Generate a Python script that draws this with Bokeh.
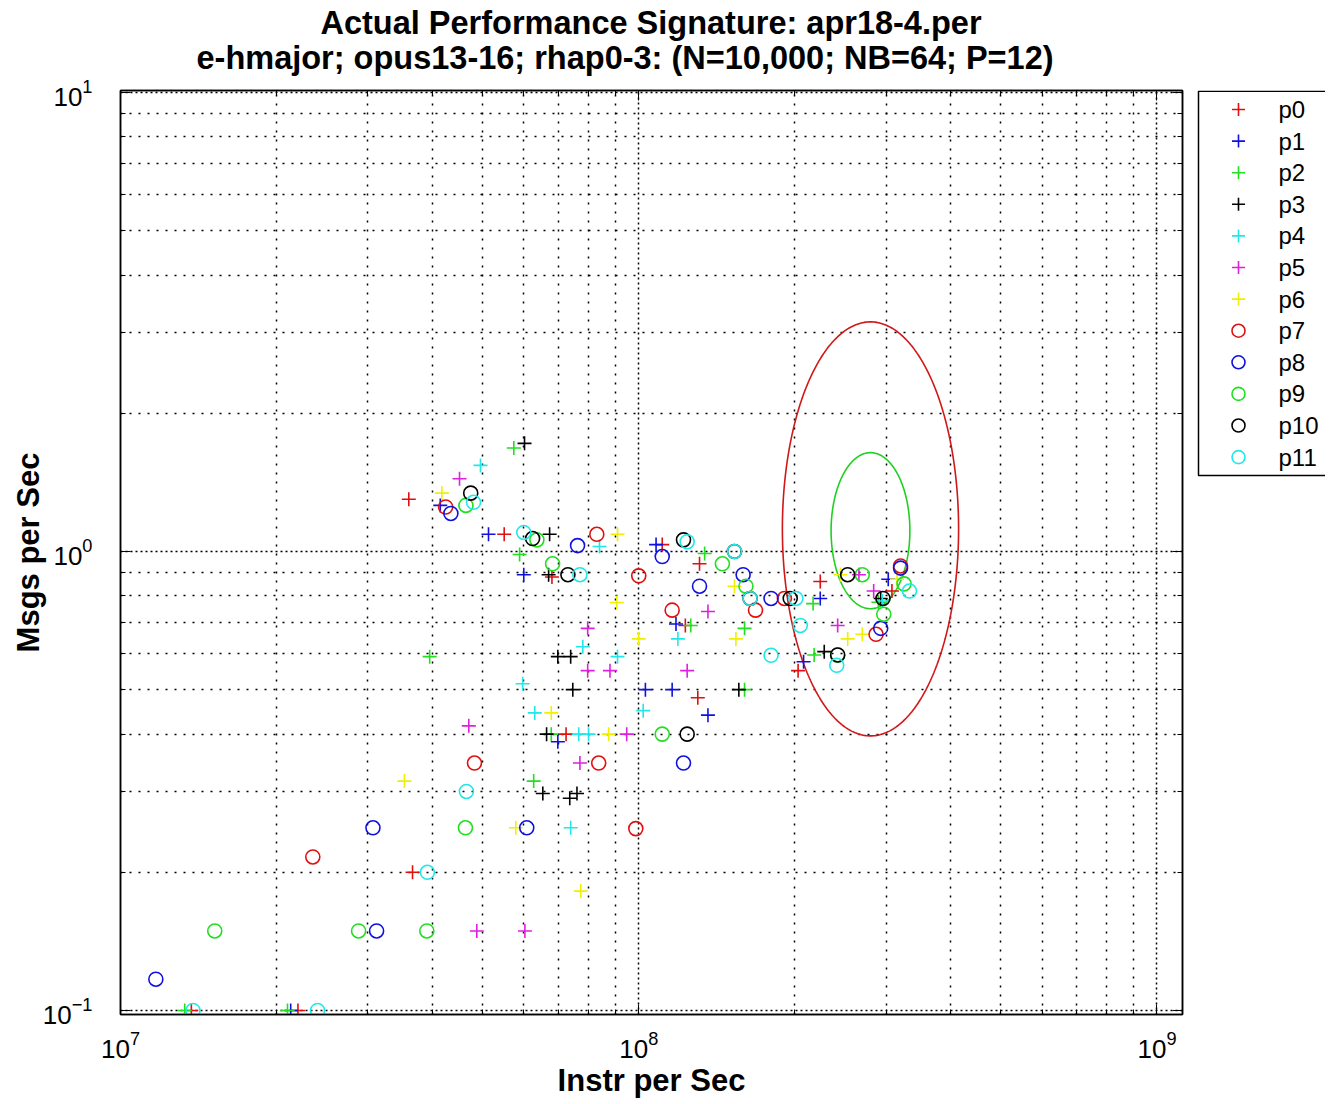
import numpy as np
from bokeh.plotting import figure
from bokeh.layouts import row, column
from bokeh.models import Range1d, LogAxis, FixedTicker, CustomJSTickFormatter
from bokeh.core.properties import value
from bokeh.embed import file_html
from bokeh.resources import INLINE

# ---------------- data ----------------
series_names = ["p0", "p1", "p2", "p3", "p4", "p5", "p6", "p7", "p8", "p9", "p10", "p11"]
series_colors = ["#e01010", "#1010e0", "#20e020", "#000000", "#20e8e8", "#e020e0",
                 "#f0f000", "#e01010", "#1010e0", "#20e020", "#000000", "#20e8e8"]
series_markers = ["cross"] * 7 + ["circle"] * 5

p0_x = [3.6e7, 5.5e7, 6.8e7, 1.11e8, 1.31e8, 1.23e8, 1.3e8, 2.24e8, 2.03e8, 3.08e8, 7.24e7, 3.66e7, 1.37e7, 2.2e7]
p0_y = [1.3, 1.09, 0.88, 1.035, 0.94, 0.69, 0.48, 0.86, 0.55, 0.82, 0.4, 0.2, 0.1, 0.1]

p1_x = [4.14e7, 5.13e7, 6.0e7, 1.08e8, 1.18e8, 1.03e8, 1.16e8, 1.36e8, 6.98e7, 2.08e8, 2.24e8, 3.03e8, 2.13e7]
p1_y = [1.26, 1.09, 0.89, 1.035, 0.695, 0.5, 0.5, 0.44, 0.385, 0.575, 0.79, 0.87, 0.1]

p2_x = [5.74e7, 5.89e7, 3.95e7, 1.34e8, 1.26e8, 1.6e8, 1.6e8, 6.78e7, 6.27e7, 2.17e8, 2.18e8, 2.9e8, 1.33e7, 2.1e7]
p2_y = [1.68, 0.985, 0.59, 0.99, 0.69, 0.68, 0.5, 0.4, 0.316, 0.77, 0.595, 0.775, 0.1, 0.1]

p3_x = [6.02e7, 6.73e7, 6.7e7, 6.98e7, 7.39e7, 7.46e7, 1.56e8, 6.64e7, 6.53e7, 7.36e7, 7.6e7, 2.28e8, 2.93e8]
p3_y = [1.72, 1.09, 0.89, 0.59, 0.59, 0.5, 0.5, 0.4, 0.297, 0.29, 0.297, 0.605, 0.79]

p4_x = [4.95e7, 8.4e7, 7.8e7, 9.1e7, 5.97e7, 6.3e7, 1.02e8, 1.19e8, 7.66e7, 8.0e7, 7.39e7, 2.95e8]
p4_y = [1.54, 1.025, 0.62, 0.59, 0.515, 0.445, 0.45, 0.645, 0.4, 0.4, 0.25, 0.78]

p5_x = [4.51e7, 7.97e7, 7.97e7, 8.8e7, 1.24e8, 1.36e8, 9.48e7, 7.7e7, 4.7e7, 4.87e7, 6.03e7, 2.42e8, 2.66e8, 2.84e8]
p5_y = [1.44, 0.68, 0.55, 0.55, 0.55, 0.74, 0.4, 0.346, 0.417, 0.149, 0.149, 0.69, 0.89, 0.82]

p6_x = [4.17e7, 9.1e7, 9.07e7, 1.0e8, 1.54e8, 1.53e8, 6.78e7, 8.75e7, 3.53e7, 5.79e7, 7.73e7, 2.53e8, 2.7e8, 2.45e8, 3.15e8]
p6_y = [1.34, 1.09, 0.774, 0.645, 0.645, 0.84, 0.445, 0.4, 0.316, 0.25, 0.182, 0.645, 0.66, 0.89, 0.87]

p7_x = [4.24e7, 8.3e7, 1.0e8, 1.16e8, 1.68e8, 1.91e8, 2.87e8, 3.2e8, 4.82e7, 8.37e7, 9.87e7, 2.35e7]
p7_y = [1.25, 1.09, 0.885, 0.745, 0.745, 0.79, 0.66, 0.93, 0.346, 0.346, 0.249, 0.216]

p8_x = [4.34e7, 7.62e7, 1.11e8, 1.31e8, 1.59e8, 1.8e8, 2.93e8, 3.2e8, 1.22e8, 6.08e7, 3.07e7, 3.12e7, 1.17e7]
p8_y = [1.21, 1.03, 0.975, 0.84, 0.89, 0.79, 0.68, 0.92, 0.346, 0.25, 0.25, 0.149, 0.117]

p9_x = [4.64e7, 6.36e7, 6.82e7, 1.45e8, 1.61e8, 2.42e8, 2.7e8, 3.25e8, 2.97e8, 1.11e8, 4.63e7, 2.88e7, 3.9e7, 1.52e7]
p9_y = [1.26, 1.06, 0.94, 0.94, 0.84, 0.595, 0.89, 0.85, 0.73, 0.4, 0.25, 0.149, 0.149, 0.149]

p10_x = [4.74e7, 6.24e7, 7.3e7, 1.22e8, 1.53e8, 1.64e8, 1.96e8, 2.42e8, 2.53e8, 2.96e8, 1.24e8]
p10_y = [1.34, 1.067, 0.89, 1.06, 1.0, 0.79, 0.79, 0.595, 0.89, 0.79, 0.4]

p11_x = [4.8e7, 6.0e7, 7.7e7, 1.24e8, 1.53e8, 1.64e8, 1.8e8, 2.01e8, 2.05e8, 2.41e8, 3.33e8, 4.65e7, 3.91e7, 1.38e7, 2.4e7]
p11_y = [1.28, 1.1, 0.89, 1.05, 1.0, 0.79, 0.594, 0.79, 0.69, 0.565, 0.82, 0.30, 0.2, 0.1, 0.1]

series_x = [p0_x, p1_x, p2_x, p3_x, p4_x, p5_x, p6_x, p7_x, p8_x, p9_x, p10_x, p11_x]
series_y = [p0_y, p1_y, p2_y, p3_y, p4_y, p5_y, p6_y, p7_y, p8_y, p9_y, p10_y, p11_y]

# ellipses (centre, radius in decades)
ellipse_cx = [2.8e8, 2.8e8]
ellipse_cy = [1.12, 1.11]
ellipse_rx_dec = [0.170, 0.076]
ellipse_ry_dec = [0.451, 0.170]
ellipse_colors = ["#d01818", "#20d020"]

x_major = [1e7, 1e8, 1e9]
y_major = [1e-1, 1e0, 1e1]

title_line1 = "Actual Performance Signature: apr18-4.per"
title_line2 = "e-hmajor; opus13-16; rhap0-3: (N=10,000; NB=64; P=12)"
x_label = "Instr per Sec"
y_label = "Msgs per Sec"

# ---------------- layout constants (pixels) ----------------
FONT = "Liberation Sans"
BORDER_L, FRAME_W, BORDER_R = 120, 1062, 2
BORDER_T, FRAME_H, BORDER_B = 12, 924, 89
TITLE_H = 78
MAIN_W = BORDER_L + FRAME_W + BORDER_R
MAIN_H = BORDER_T + FRAME_H + BORDER_B
LEG_W = 1325 - MAIN_W
FRAME_TOP_PX = TITLE_H + BORDER_T
FRAME_BOTTOM_PX = FRAME_TOP_PX + FRAME_H

# ---------------- title strip ----------------
pt = figure(width=MAIN_W + LEG_W, height=TITLE_H, x_range=Range1d(0, MAIN_W + LEG_W),
            y_range=Range1d(TITLE_H, 0), output_backend="svg", toolbar_location=None,
            x_axis_location=None, y_axis_location=None, title_location=None,
            min_border_left=0, min_border_right=0, min_border_top=0, min_border_bottom=0,
            outline_line_color=None)
pt.grid.visible = False
pt.text(x=[320, 196], y=[22, 57], text=[title_line1, title_line2],
        text_align="left", text_baseline="middle", text_font=value(FONT),
        text_font_size="32.5px", text_font_style="bold", text_color="black")

# ---------------- main plot ----------------
p = figure(width=MAIN_W, height=MAIN_H, x_axis_type="log", y_axis_type="log",
           x_range=Range1d(1.0e7, 1.12e9), y_range=Range1d(0.098, 10.1),
           output_backend="svg", toolbar_location=None, title_location=None,
           min_border_left=BORDER_L, min_border_right=BORDER_R,
           min_border_top=BORDER_T, min_border_bottom=BORDER_B,
           background_fill_color="white", border_fill_color="white")

def minor_for(majors, extra_top):
    out = []
    for m in majors[:-1]:
        out += [m * k for k in range(2, 10)]
    out += [majors[-1] * k for k in range(2, extra_top)]
    return out

x_ticker = FixedTicker(ticks=x_major, minor_ticks=minor_for(x_major, 3))
y_ticker = FixedTicker(ticks=y_major, minor_ticks=minor_for(y_major, 2))

p.xaxis.ticker = x_ticker
p.yaxis.ticker = y_ticker

for ax in (p.xaxis, p.yaxis):
    ax.axis_line_color = "black"
    ax.axis_line_width = 1.5
    ax.major_tick_in = 10
    ax.major_tick_out = 0
    ax.minor_tick_in = 5
    ax.minor_tick_out = 0
    ax.major_tick_line_color = "black"
    ax.minor_tick_line_color = "black"
    ax.major_label_text_font = FONT
    ax.major_label_text_font_size = "26px"
    ax.major_label_text_color = "black"
    ax.axis_label_text_font = FONT
    ax.axis_label_text_font_size = "31px"
    ax.axis_label_text_font_style = "bold"
    ax.axis_label_text_color = "black"

p.xaxis.axis_label = x_label
p.yaxis.axis_label = y_label
p.xaxis.major_label_standoff = 16
p.yaxis.major_label_standoff = 28
p.xaxis.axis_label_standoff = 2
p.yaxis.axis_label_standoff = -6

blank = CustomJSTickFormatter(code="return ''")
top_axis = LogAxis(ticker=x_ticker, formatter=blank, major_label_standoff=0,
                   major_tick_in=10, major_tick_out=0, minor_tick_in=5, minor_tick_out=0,
                   axis_line_width=1.5)
right_axis = LogAxis(ticker=y_ticker, formatter=blank, major_label_standoff=0,
                     major_tick_in=10, major_tick_out=0, minor_tick_in=5, minor_tick_out=0,
                     axis_line_width=1.5)
p.add_layout(top_axis, "above")
p.add_layout(right_axis, "right")

for g in (p.xgrid, p.ygrid):
    g.grid_line_color = "black"
    g.grid_line_width = 1.5
    g.grid_line_dash = "2 3"
    g.minor_grid_line_color = "black"
    g.minor_grid_line_width = 1.5
    g.minor_grid_line_dash = "2 7"
p.xgrid.ticker = x_ticker
p.ygrid.ticker = y_ticker

p.outline_line_color = "black"
p.outline_line_width = 1.5

# ellipses
theta = np.linspace(0, 2 * np.pi, 361)
for cx, cy, rx, ry, col in zip(ellipse_cx, ellipse_cy, ellipse_rx_dec, ellipse_ry_dec, ellipse_colors):
    ex = 10 ** (np.log10(cx) + rx * np.cos(theta))
    ey = 10 ** (np.log10(cy) + ry * np.sin(theta))
    p.line(ex, ey, line_color=col, line_width=1.6)

# scatter series
for name, col, mk, xs, ys in zip(series_names, series_colors, series_markers, series_x, series_y):
    p.scatter(xs, ys, marker=mk, size=14, line_color=col, fill_color=None, line_width=1.6)

# ---------------- legend strip (its frame is aligned with the main frame; y in page px) ----------------
pl = figure(width=LEG_W, height=MAIN_H, x_range=Range1d(0, LEG_W),
            y_range=Range1d(FRAME_BOTTOM_PX, FRAME_TOP_PX),
            output_backend="svg", toolbar_location=None, x_axis_location=None, y_axis_location=None,
            title_location=None, min_border_left=0, min_border_right=0,
            min_border_top=BORDER_T, min_border_bottom=BORDER_B, outline_line_color=None)
pl.grid.visible = False

LEG_LEFT, LEG_TOP, LEG_BOTTOM = 14, FRAME_TOP_PX + 0.8, 475
ROW0, ROW_STEP = 109, 31.6
GLYPH_X, LABEL_X = 54, 94
pl.quad(left=[LEG_LEFT], right=[LEG_W + 4], top=[LEG_TOP], bottom=[LEG_BOTTOM],
        fill_color="white", line_color="black", line_width=1.5)
row_y = [ROW0 + ROW_STEP * i for i in range(len(series_names))]
for name, col, mk, yy in zip(series_names, series_colors, series_markers, row_y):
    pl.scatter([GLYPH_X], [yy], marker=mk, size=13, line_color=col, fill_color=None, line_width=1.6)
pl.text(x=[LABEL_X] * len(series_names), y=row_y, text=series_names, text_align="left",
        text_baseline="middle", text_font=value(FONT), text_font_size="24px", text_color="black")

layout = column(pt, row(p, pl))
open("out.html", "w").write(file_html(layout, INLINE))
